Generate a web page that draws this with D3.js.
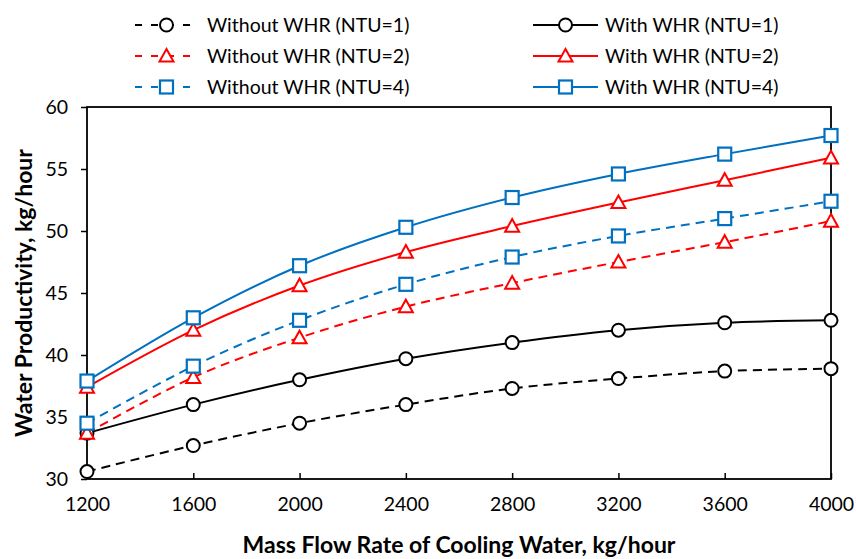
<!DOCTYPE html>
<html>
<head>
<meta charset="utf-8">
<script src="https://cdn.jsdelivr.net/npm/d3@7"></script>
<style>
  body { margin: 0; background: #fff; }
  text { font-family: Lato, "Open Sans", sans-serif; fill: #000; }
</style>
</head>
<body>
<div id="chart"></div>
<script>
    // Data
    const flowRates = [1200, 1600, 2000, 2400, 2800, 3200, 3600, 4000];
    const withoutNtu1 = [30.6, 32.7, 34.5, 36.0, 37.3, 38.1, 38.7, 38.9];
    const withoutNtu2 = [33.7, 38.2, 41.4, 43.9, 45.8, 47.5, 49.1, 50.8];
    const withoutNtu4 = [34.5, 39.1, 42.8, 45.7, 47.9, 49.6, 51.0, 52.4];
    const withNtu1 = [33.7, 36.0, 38.0, 39.7, 41.0, 42.0, 42.6, 42.8];
    const withNtu2 = [37.4, 42.0, 45.6, 48.3, 50.4, 52.3, 54.1, 55.9];
    const withNtu4 = [37.9, 43.0, 47.2, 50.3, 52.7, 54.6, 56.2, 57.7];
    const yTicks = [30, 35, 40, 45, 50, 55, 60];

    const series = [
        { name: "Without WHR (NTU=1)", values: withoutNtu1, color: "#000000", dashed: true, marker: "circle" },
        { name: "With WHR (NTU=1)", values: withNtu1, color: "#000000", dashed: false, marker: "circle" },
        { name: "Without WHR (NTU=2)", values: withoutNtu2, color: "#ff0000", dashed: true, marker: "triangle" },
        { name: "With WHR (NTU=2)", values: withNtu2, color: "#ff0000", dashed: false, marker: "triangle" },
        { name: "Without WHR (NTU=4)", values: withoutNtu4, color: "#0070c0", dashed: true, marker: "square" },
        { name: "With WHR (NTU=4)", values: withNtu4, color: "#0070c0", dashed: false, marker: "square" }
    ];

    const width = 856;
    const height = 559;
    const margin = { top: 107, right: 25, bottom: 80, left: 87 };

    const svg = d3.select("#chart")
        .append("svg")
        .attr("width", width)
        .attr("height", height);

    const x = d3.scaleLinear()
        .domain([1200, 4000])
        .range([margin.left, width - margin.right]);

    const y = d3.scaleLinear()
        .domain([30, 60])
        .range([height - margin.bottom, margin.top]);

    // Axes
    const xAxis = svg.append("g")
        .attr("transform", `translate(0, ${height - margin.bottom})`)
        .call(d3.axisBottom(x).tickValues(flowRates).tickSize(-6).tickPadding(18).tickFormat(d3.format("d")));

    const yAxis = svg.append("g")
        .attr("transform", `translate(${margin.left}, 0)`)
        .call(d3.axisLeft(y).tickValues(yTicks).tickSize(6).tickPadding(13));

    [xAxis, yAxis].forEach(g => {
        g.select(".domain").remove();
        g.selectAll("line").attr("stroke", "#000").attr("stroke-width", 1.5);
        g.selectAll("text").style("font-size", "19.5px").style("font-family", "Lato, sans-serif");
    });

    // Plot frame
    svg.append("rect")
        .attr("x", x(1200))
        .attr("y", y(60))
        .attr("width", x(4000) - x(1200))
        .attr("height", y(30) - y(60))
        .attr("fill", "none")
        .attr("stroke", "#000")
        .attr("stroke-width", 1.8);

    // Axis titles
    svg.append("text")
        .attr("x", (x(1200) + x(4000)) / 2)
        .attr("y", 553)
        .attr("text-anchor", "middle")
        .style("font-size", "23px")
        .style("font-weight", "bold")
        .text("Mass Flow Rate of Cooling Water, kg/hour");

    svg.append("text")
        .attr("transform", `translate(32, ${(y(30) + y(60)) / 2}) rotate(-90)`)
        .attr("text-anchor", "middle")
        .style("font-size", "23px")
        .style("font-weight", "bold")
        .text("Water Productivity, kg/hour");

    // Marker drawing
    function drawMarker(g, type, cx, cy, color) {
        if (type === "circle") {
            g.append("circle")
                .attr("cx", cx).attr("cy", cy).attr("r", 6.5)
                .attr("fill", "#fff").attr("stroke", color).attr("stroke-width", 2);
        } else if (type === "square") {
            g.append("rect")
                .attr("x", cx - 6.5).attr("y", cy - 6.5)
                .attr("width", 13).attr("height", 13)
                .attr("fill", "#fff").attr("stroke", color).attr("stroke-width", 2.2);
        } else {
            const s = 7;
            g.append("path")
                .attr("d", `M ${cx},${cy - s} L ${cx + s},${cy + s * 0.8} L ${cx - s},${cy + s * 0.8} Z`)
                .attr("fill", "#fff").attr("stroke", color).attr("stroke-width", 2);
        }
    }

    const line = d3.line()
        .x((d, i) => x(flowRates[i]))
        .y(d => y(d))
        .curve(d3.curveCardinal.tension(0));

    // Draw lines first, then markers on top
    series.forEach(s => {
        svg.append("path")
            .datum(s.values)
            .attr("d", line)
            .attr("fill", "none")
            .attr("stroke", s.color)
            .attr("stroke-width", 2)
            .attr("stroke-dasharray", s.dashed ? "9,6" : null);
    });

    series.forEach(s => {
        const g = svg.append("g");
        s.values.forEach((v, i) => drawMarker(g, s.marker, x(flowRates[i]), y(v), s.color));
    });

    // Legend
    const legendRows = [25, 56, 87];
    const legendCols = [
        { x1: 135, x2: 198, text: 207 },
        { x1: 533, x2: 598, text: 605 }
    ];

    series.forEach((s, i) => {
        const col = legendCols[s.dashed ? 0 : 1];
        const ly = legendRows[Math.floor(i / 2)];
        const g = svg.append("g");
        g.append("line")
            .attr("x1", col.x1).attr("x2", col.x2)
            .attr("y1", ly).attr("y2", ly)
            .attr("stroke", s.color)
            .attr("stroke-width", 2.2)
            .attr("stroke-dasharray", s.dashed ? "7,9" : null);
        drawMarker(g, s.marker, (col.x1 + col.x2) / 2, ly, s.color);
        g.append("text")
            .attr("x", col.text)
            .attr("y", ly)
            .attr("dy", "0.35em")
            .style("font-size", "19.5px")
            .text(s.name);
    });
</script>
</body>
</html>
